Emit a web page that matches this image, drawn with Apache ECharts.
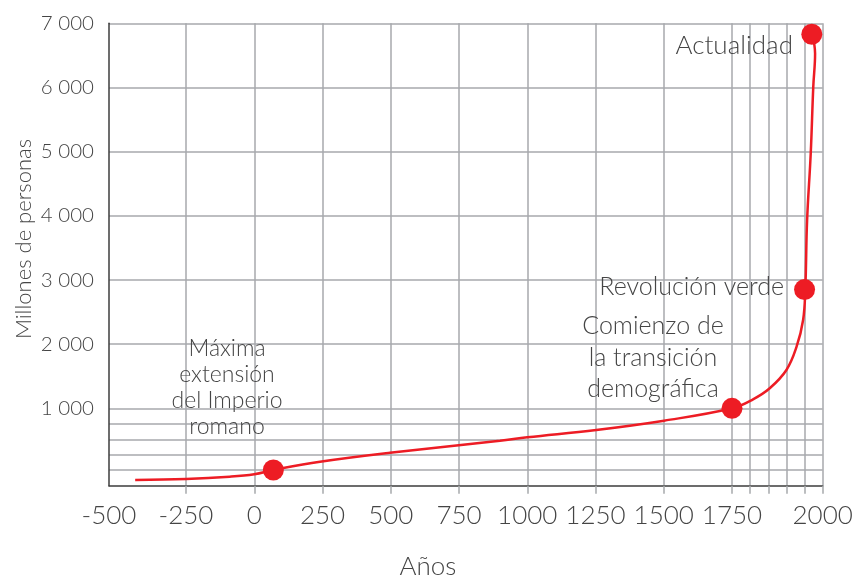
<!DOCTYPE html>
<html><head><meta charset="utf-8">
<script src="https://cdn.jsdelivr.net/npm/echarts@6/dist/echarts.min.js"></script>
<style>html,body{margin:0;padding:0;background:#fff}#c{width:866px;height:579px}</style>
</head><body><div id="c"></div>
<script>
// ---------- DATA ----------
const curveYears = [-415, -250, -90, 0, 70, 241, 497, 900, 1000, 1253, 1501, 1750, 1808, 1854, 1900, 1928, 1946, 1952, 1957, 1967, 1974, 1979, 1971];
const curvePop   = [74, 87, 116, 148, 203, 310, 426, 581, 625, 720, 840, 1000, 1140, 1312, 1597, 1960, 2376, 2850, 3930, 4970, 6010, 6530, 6830];
const eventNames = ['Máxima\nextensión\ndel Imperio\nromano', 'Comienzo de\nla transición\ndemográfica', 'Revolución verde', 'Actualidad'];
const eventYears = [70, 1750, 1950, 1970];
const eventPop   = [203, 1000, 2850, 6830];
const xLabelYears = [-500, -250, 0, 250, 500, 750, 1000, 1250, 1500, 1750, 2000];
const xGridYears  = [-250, 0, 250, 500, 750, 1000, 1250, 1500, 1750, 1800, 1850, 1900, 1950, 2000];
const yLabelValues = [1000, 2000, 3000, 4000, 5000, 6000, 7000];
const yGridValues  = [200, 400, 600, 800, 1000, 2000, 3000, 4000, 5000, 6000, 7000];
const xTitle = 'Años';
const yTitle = 'Millones de personas';

// ---------- SCALE (piecewise-linear axes, as in the original drawing) ----------
const xDomain = [-500, -250, 1750, 2000], xRange = [0, 77, 623, 713.7];
const yDomain = [0, 1000, 7000],           yRange = [0, 77.4, 462.4];
function piecewise(d, r) {
  return v => {
    for (let i = 0; i < d.length - 1; i++) {
      if (v <= d[i + 1] || i === d.length - 2) {
        return r[i] + (v - d[i]) * (r[i + 1] - r[i]) / (d[i + 1] - d[i]);
      }
    }
  };
}
const X = piecewise(xDomain, xRange), Xinv = piecewise(xRange, xDomain);
const Y = piecewise(yDomain, yRange), Yinv = piecewise(yRange, yDomain);

const RED = '#ED1C24';
const GRID = '#a7a9ac';
const TXT = '#454545';
const FONT = 'Lato';

const chart = echarts.init(document.getElementById('c'), null, {renderer: 'canvas'});
const txt = (o) => Object.assign({fill: TXT, fontFamily: FONT, fontWeight: 300, fontSize: 25}, o);
const C = {align: 'center', verticalAlign: 'middle', textAlign: 'center', textVerticalAlign: 'middle'};
const R = {align: 'right', verticalAlign: 'middle', textAlign: 'right', textVerticalAlign: 'middle'};

chart.setOption({
  animation: false,
  backgroundColor: '#fff',
  grid: {left: 109, right: 43.3, top: 23.3, bottom: 93.3, containLabel: false},
  xAxis: {
    type: 'value', min: 0, max: xRange[xRange.length - 1],
    axisLine: {show: true, onZero: false, lineStyle: {color: '#3c3c3c', width: 1.5}},
    axisTick: {show: true, length: 8, customValues: xGridYears.map(X), lineStyle: {color: GRID, width: 1.5}},
    splitLine: {show: true, lineStyle: {color: GRID, width: 1.5}},
    axisLabel: {
      customValues: xLabelYears.map(X), margin: 17,
      color: TXT, fontFamily: FONT, fontWeight: 300, fontSize: 26,
      formatter: v => String(Math.round(Xinv(v)))
    }
  },
  yAxis: {
    type: 'value', min: 0, max: yRange[yRange.length - 1],
    axisLine: {show: true, onZero: false, lineStyle: {color: '#3c3c3c', width: 1.5}},
    axisTick: {show: false, customValues: yGridValues.map(Y)},
    splitLine: {show: true, lineStyle: {color: GRID, width: 1.5}},
    axisLabel: {
      customValues: yLabelValues.map(Y), margin: 15,
      color: TXT, fontFamily: FONT, fontWeight: 300, fontSize: 20.5,
      formatter: v => {
        const n = Math.round(Yinv(v));
        return String(n).replace(/\B(?=(\d{3})+(?!\d))/g, ' ');
      }
    }
  },
  series: [
    {
      type: 'line', smooth: 0.4, showSymbol: false, z: 3,
      lineStyle: {color: RED, width: 2.5},
      data: curveYears.map((yr, i) => [X(yr), Y(curvePop[i])])
    },
    {
      type: 'scatter', symbolSize: 21, z: 4,
      itemStyle: {color: RED, opacity: 1},
      data: eventYears.map((yr, i) => ({value: [X(yr), Y(eventPop[i])], name: eventNames[i]}))
    }
  ],
  graphic: [
    {type: 'text', z: 10, style: txt(Object.assign({text: eventNames[0], x: 227, y: 388, fontSize: 23, lineHeight: 26}, C))},
    {type: 'text', z: 10, style: txt(Object.assign({text: eventNames[1], x: 653, y: 357.5, lineHeight: 31.5}, C))},
    {type: 'text', z: 10, style: txt(Object.assign({text: eventNames[2], x: 784, y: 287}, R))},
    {type: 'text', z: 10, style: txt(Object.assign({text: eventNames[3], x: 793, y: 46, fontSize: 26}, R))},
    {type: 'text', z: 10, style: txt(Object.assign({text: xTitle, x: 428, y: 567, fontSize: 26}, C))},
    {type: 'text', z: 10, x: 24, y: 239, rotation: Math.PI / 2, style: txt(Object.assign({text: yTitle, x: 0, y: 0, fontSize: 22}, C))}
  ]
});
</script>
</body></html>
